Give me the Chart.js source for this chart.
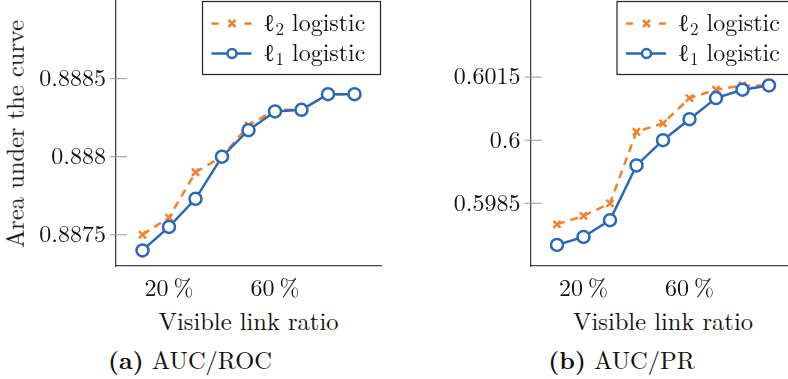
<!DOCTYPE html>
<html>
<head>
<meta charset="utf-8">
<script src="https://cdn.jsdelivr.net/npm/chart.js@4.4.0/dist/chart.umd.min.js"></script>
<style>
  body { margin: 0; width: 788px; height: 379px; overflow: hidden; background: #fff; position: relative; color: #111; }
  .lbl { position: absolute; font-size: 24.5px; line-height: 1; white-space: nowrap; transform: translate(-50%, -50%); }
</style>
</head>
<body>
<!-- canvases sit 8px up: Chart.js keeps half a marker of room above the plot -->
<canvas id="rocChart" width="394" height="308" style="position:absolute;left:0;top:-8px"></canvas>
<canvas id="prChart" width="420" height="308" style="position:absolute;left:394px;top:-8px"></canvas>
<div class="lbl" style="font-family:'Latin Modern Roman','Liberation Serif',serif;left:14px;top:133.5px;transform:translate(-50%,-50%) rotate(-90deg)">Area under the curve</div>
<div class="lbl" style="font-family:'Latin Modern Roman','Liberation Serif',serif;left:248.5px;top:320px">Visible link ratio</div>
<div class="lbl" style="font-family:'Latin Modern Roman','Liberation Serif',serif;left:663px;top:320px">Visible link ratio</div>
<div class="lbl" style="font-family:'Latin Modern Roman','Liberation Serif',serif;left:190px;top:359px"><b>(a)</b> AUC/ROC</div>
<div class="lbl" style="font-family:'Latin Modern Roman','Liberation Serif',serif;left:621.5px;top:359px"><b>(b)</b> AUC/PR</div>
<script>
// visible link ratio in percent
const ratios = [10, 20, 30, 40, 50, 60, 70, 80, 90];
const xTicks = [20, 60];

// AUC/ROC
const rocL2 = [0.8875, 0.88761, 0.8879, 0.8880, 0.8882, 0.8883, 0.8883, 0.8884, 0.8884];
const rocL1 = [0.8874, 0.88755, 0.88773, 0.8880, 0.88817, 0.88829, 0.8883, 0.8884, 0.8884];
const rocTicks = [0.8875, 0.888, 0.8885];

// AUC/PR
const prL2 = [0.5980, 0.5982, 0.5985, 0.6002, 0.6004, 0.6010, 0.6012, 0.6013, 0.6013];
const prL1 = [0.59751, 0.5977, 0.5981, 0.5994, 0.6000, 0.6005, 0.6010, 0.6012, 0.6013];
const prTicks = [0.5985, 0.6, 0.6015];

const ORANGE = "#f4822a";
const BLUE = "#2b69b4";
const FONT = "'Latin Modern Roman', 'Liberation Serif', serif";

Chart.defaults.font.family = FONT;
Chart.defaults.font.size = 24;
Chart.defaults.color = "#111";

// small grey ticks sitting across the left spine
const innerTicks = {
  id: "innerTicks",
  afterDraw(chart) {
    const { ctx } = chart;
    const y = chart.scales.y;
    ctx.save();
    ctx.strokeStyle = "#999";
    ctx.lineWidth = 1;
    y.ticks.forEach((t) => {
      const py = y.getPixelForValue(t.value);
      ctx.beginPath();
      ctx.moveTo(y.right - 6, py);
      ctx.lineTo(y.right + 11, py);
      ctx.stroke();
    });
    ctx.restore();
  },
};

// boxed legend in the top right corner, like pgfplots
const boxLegend = {
  id: "boxLegend",
  afterDraw(chart) {
    const { ctx, chartArea } = chart;
    const w = 179, h = 73;
    const left = chartArea.right - w;
    const top = chartArea.top + 1;
    ctx.save();
    ctx.fillStyle = "#fff";
    ctx.fillRect(left, top, w, h);
    ctx.strokeStyle = "#222";
    ctx.lineWidth = 1.2;
    ctx.strokeRect(left + 0.5, top, w - 1, h);

    const rows = [
      { sub: "2", color: ORANGE, dash: true, mark: "x" },
      { sub: "1", color: BLUE, dash: false, mark: "o" },
    ];
    rows.forEach((r, i) => {
      const cy = top + 22 + i * 30;
      const x0 = left + 9.5, x1 = left + 49.5, xm = left + 30;
      ctx.strokeStyle = r.color;
      ctx.lineWidth = 2.5;
      ctx.beginPath();
      if (r.dash) {
        ctx.moveTo(x0, cy); ctx.lineTo(x0 + 7, cy);
        ctx.moveTo(x1 - 7, cy); ctx.lineTo(x1, cy);
      } else {
        ctx.moveTo(x0, cy); ctx.lineTo(x1, cy);
      }
      ctx.stroke();
      if (r.mark === "x") {
        const s = 3.5;
        ctx.beginPath();
        ctx.moveTo(xm - s, cy - s); ctx.lineTo(xm + s, cy + s);
        ctx.moveTo(xm - s, cy + s); ctx.lineTo(xm + s, cy - s);
        ctx.stroke();
      } else {
        ctx.beginPath();
        ctx.arc(xm, cy, 4.5, 0, Math.PI * 2);
        ctx.fillStyle = "#fff";
        ctx.fill();
        ctx.stroke();
      }
      ctx.fillStyle = "#111";
      ctx.textBaseline = "alphabetic";
      const base = cy + 7;
      let tx = left + 61;
      ctx.font = "24px " + FONT;
      ctx.fillText("\u2113", tx, base);
      tx += ctx.measureText("\u2113").width + 1;
      ctx.font = "17px " + FONT;
      ctx.fillText(r.sub, tx, base + 4);
      tx += ctx.measureText(r.sub).width;
      ctx.font = "24px " + FONT;
      ctx.fillText(" logistic", tx, base);
    });
    ctx.restore();
  },
};

function noPad(s) {
  s.paddingTop = 0; s.paddingBottom = 0; s.paddingLeft = 0; s.paddingRight = 0;
}

function makeChart(id, l2, l1, yMin, yMax, yTicks, axisWidth, padRight) {
  const ctx = document.getElementById(id).getContext("2d");
  return new Chart(ctx, {
    type: "line",
    data: {
      datasets: [
        {
          label: "l1 logistic",
          data: ratios.map((r, i) => ({ x: r, y: l1[i] })),
          borderColor: BLUE,
          borderWidth: 2.5,
          pointStyle: "circle",
          pointRadius: 6,
          pointBorderWidth: 2.5,
          pointBorderColor: BLUE,
          pointBackgroundColor: "#fff",
          tension: 0,
        },
        {
          label: "l2 logistic",
          data: ratios.map((r, i) => ({ x: r, y: l2[i] })),
          borderColor: ORANGE,
          borderWidth: 2.5,
          borderDash: [8, 6],
          pointStyle: "crossRot",
          pointRadius: 5,
          pointBorderWidth: 2.5,
          pointBorderColor: ORANGE,
          tension: 0,
        },
      ],
    },
    options: {
      responsive: false,
      animation: false,
      devicePixelRatio: 1,
      clip: false,
      layout: { padding: { top: 0, right: padRight, left: 0, bottom: 0 } },
      plugins: { legend: { display: false }, tooltip: { enabled: false } },
      scales: {
        x: {
          type: "linear",
          min: 0,
          max: 100,
          grid: { display: false, drawTicks: false },
          border: { display: true, color: "#444", width: 1.3 },
          afterBuildTicks: (s) => { s.ticks = xTicks.map((v) => ({ value: v })); },
          afterFit: (s) => { s.height = 34; noPad(s); },
          ticks: { padding: 8, maxRotation: 0, callback: (v) => v + "\u2009%" },
        },
        y: {
          type: "linear",
          min: yMin,
          max: yMax,
          grid: { display: false, drawTicks: false },
          border: { display: true, color: "#444", width: 1.3 },
          afterBuildTicks: (s) => { s.ticks = yTicks.map((v) => ({ value: v })); },
          afterFit: (s) => { s.width = axisWidth; noPad(s); },
          ticks: { padding: 10, callback: (v) => String(parseFloat(v.toFixed(6))) },
        },
      },
    },
    plugins: [innerTicks, boxLegend],
  });
}

makeChart("rocChart", rocL2, rocL1, 0.8873, 0.8890, rocTicks, 116, 13);
makeChart("prChart", prL2, prL1, 0.59701, 0.60332, prTicks, 136.5, 18.5);
</script>
</body>
</html>
